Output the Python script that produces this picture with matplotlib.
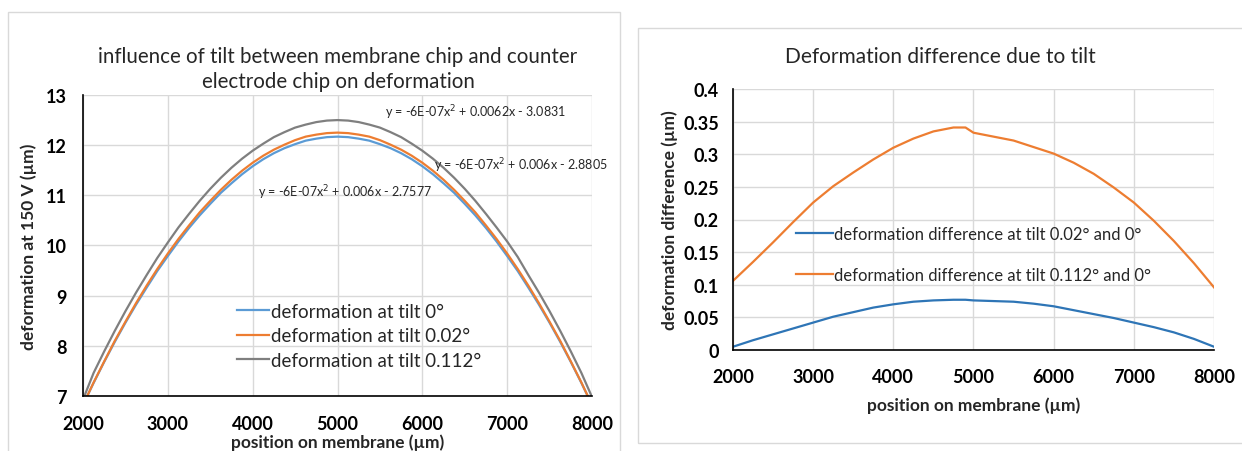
import matplotlib.pyplot as plt
from matplotlib.patches import Rectangle

# left chart: deformation at 150 V for three tilt angles
pos = [2000, 2125, 2250, 2375, 2500, 2625, 2750, 2875, 3000, 3125, 3250, 3375, 3500, 3625, 3750, 3875,
       4000, 4125, 4250, 4375, 4500, 4625, 4750, 4875, 5000, 5125, 5250, 5375, 5500, 5625, 5750, 5875,
       6000, 6125, 6250, 6375, 6500, 6625, 6750, 6875, 7000, 7125, 7250, 7375, 7500, 7625, 7750, 7875, 8000]
tilt_0 = [6.82, 7.26, 7.68, 8.08, 8.46, 8.82, 9.16, 9.49, 9.79, 10.08, 10.35, 10.60, 10.83, 11.05, 11.24, 11.42,
          11.58, 11.72, 11.84, 11.94, 12.02, 12.09, 12.13, 12.16, 12.17, 12.16, 12.13, 12.09, 12.02, 11.94, 11.84, 11.72,
          11.58, 11.42, 11.24, 11.05, 10.83, 10.60, 10.35, 10.08, 9.79, 9.49, 9.16, 8.82, 8.46, 8.08, 7.68, 7.26, 6.82]
tilt_002 = [6.82, 7.27, 7.69, 8.10, 8.48, 8.85, 9.20, 9.53, 9.84, 10.13, 10.40, 10.66, 10.89, 11.11, 11.31, 11.49,
            11.65, 11.79, 11.91, 12.01, 12.10, 12.17, 12.21, 12.24, 12.25, 12.24, 12.21, 12.17, 12.10, 12.01, 11.91, 11.79,
            11.65, 11.49, 11.31, 11.11, 10.89, 10.66, 10.40, 10.13, 9.84, 9.53, 9.20, 8.85, 8.48, 8.10, 7.69, 7.27, 6.82]
tilt_0112 = [6.93, 7.46, 7.89, 8.30, 8.69, 9.06, 9.41, 9.75, 10.06, 10.36, 10.63, 10.89, 11.13, 11.35, 11.55, 11.73,
             11.89, 12.03, 12.16, 12.26, 12.35, 12.41, 12.46, 12.49, 12.50, 12.49, 12.46, 12.41, 12.35, 12.26, 12.16, 12.03,
             11.89, 11.73, 11.55, 11.35, 11.13, 10.89, 10.63, 10.36, 10.08, 9.77, 9.41, 9.06, 8.69, 8.30, 7.89, 7.46, 6.98]
fit_labels = ["y = -6E-07x$^2$ + 0.0062x - 3.0831",
              "y = -6E-07x$^2$ + 0.006x - 2.8805",
              "y = -6E-07x$^2$ + 0.006x - 2.7577"]
fit_pos = [(5560, 12.66), (6140, 11.62), (4060, 11.07)]

# right chart: difference to tilt 0
pos_d = [2000, 2250, 2500, 2750, 3000, 3250, 3500, 3750, 4000, 4250, 4500, 4750, 4900, 5000,
         5250, 5500, 5750, 6000, 6250, 6500, 6750, 7000, 7250, 7500, 7750, 8000]
diff_002 = [0.005, 0.015, 0.024, 0.033, 0.042, 0.051, 0.058, 0.065, 0.070, 0.074, 0.076, 0.077, 0.077, 0.076,
            0.075, 0.074, 0.071, 0.067, 0.061, 0.055, 0.049, 0.042, 0.035, 0.027, 0.017, 0.005]
diff_0112 = [0.106, 0.135, 0.165, 0.196, 0.226, 0.251, 0.272, 0.292, 0.310, 0.324, 0.335, 0.341, 0.341, 0.333,
             0.327, 0.321, 0.311, 0.301, 0.287, 0.270, 0.249, 0.226, 0.198, 0.167, 0.133, 0.096]

plt.rcParams['font.family'] = ['Lato', 'DejaVu Sans']
grid_c = '#d9d9d9'
txt_c = '#262626'

fig = plt.figure(figsize=(12.42, 4.52), dpi=100)

# chart frames
fig.patches.append(Rectangle((8/1242, -0.05), 612/1242, 1 - 13/452 + 0.05, transform=fig.transFigure,
                             fill=False, edgecolor=grid_c, linewidth=1))
fig.patches.append(Rectangle((638/1242, 1 - 444/452), 0.5, (444 - 29)/452, transform=fig.transFigure,
                             fill=False, edgecolor=grid_c, linewidth=1))


def style(ax, xpad, ypad):
    for s in ['top', 'right']:
        ax.spines[s].set_visible(False)
    for s in ['left', 'bottom']:
        ax.spines[s].set_color('black')
        ax.spines[s].set_linewidth(1.2)
    ax.grid(True, color=grid_c, linewidth=1)
    ax.set_axisbelow(True)
    ax.tick_params(length=0, labelsize=13, colors='black')
    ax.tick_params(axis='x', pad=xpad)
    ax.tick_params(axis='y', pad=ypad)
    for lab in ax.get_xticklabels() + ax.get_yticklabels():
        lab.set_fontweight('bold')


ax1 = fig.add_axes([83/1242, 1 - 397/452, 509/1242, 301/452])
ax1.plot(pos, tilt_0, color='#5b9bd5', lw=1.6, label='deformation at tilt 0°')
ax1.plot(pos, tilt_002, color='#ed7d31', lw=1.6, label='deformation at tilt 0.02°')
ax1.plot(pos, tilt_0112, color='#7f7f7f', lw=1.6, label='deformation at tilt 0.112°')
ax1.set_xlim(2000, 8000)
ax1.set_ylim(7, 13)
ax1.set_xticks(range(2000, 8001, 1000))
ax1.set_yticks(range(7, 14))
style(ax1, 14, 12)
ax1.set_xlabel('position on membrane (µm)', fontsize=12.5, fontweight='bold', color=txt_c, labelpad=1)
ax1.set_ylabel('deformation at 150 V (µm)', fontsize=12.5, fontweight='bold', color=txt_c, labelpad=6)
for t, (x, y) in zip(fit_labels, fit_pos):
    ax1.text(x, y, t, fontsize=9, color=txt_c, ha='left', va='center')
ax1.legend(loc='lower left', bbox_to_anchor=(0.27, 0.035), frameon=False, fontsize=13.5,
           handlelength=1.7, handletextpad=0.1, labelspacing=0.4, labelcolor=txt_c)
fig.text(338/1242, 1 - 57/452, 'influence of tilt between membrane chip and counter',
         fontsize=14.8, color=txt_c, ha='center', va='center')
fig.text(338/1242, 1 - 82/452, 'electrode chip on deformation',
         fontsize=14.8, color=txt_c, ha='center', va='center')

ax2 = fig.add_axes([733/1242, 1 - 351/452, 481/1242, 261/452])
ax2.plot(pos_d, diff_002, color='#2e75b6', lw=1.6, label='deformation difference at tilt 0.02° and 0°')
ax2.plot(pos_d, diff_0112, color='#ed7d31', lw=1.6, label='deformation difference at tilt 0.112° and 0°')
ax2.set_xlim(2000, 8000)
ax2.set_ylim(0, 0.4)
ax2.set_xticks(range(2000, 8001, 1000))
ax2.set_yticks([0, 0.05, 0.1, 0.15, 0.2, 0.25, 0.3, 0.35, 0.4])
ax2.set_yticklabels(['0', '0.05', '0.1', '0.15', '0.2', '0.25', '0.3', '0.35', '0.4'])
style(ax2, 13, 10)
ax2.set_xlabel('position on membrane (µm)', fontsize=12.5, fontweight='bold', color=txt_c, labelpad=8)
ax2.set_ylabel('deformation difference (µm)', fontsize=12.5, fontweight='bold', color=txt_c, labelpad=4)
ax2.legend(loc='lower left', bbox_to_anchor=(0.1, 0.198), frameon=False, fontsize=12,
           handlelength=2.2, handletextpad=0.1, labelspacing=1.5, labelcolor=txt_c)
fig.text(940/1242, 1 - 57/452, 'Deformation difference due to tilt',
         fontsize=15, color=txt_c, ha='center', va='center')

fig.savefig('out.png', dpi=100)
